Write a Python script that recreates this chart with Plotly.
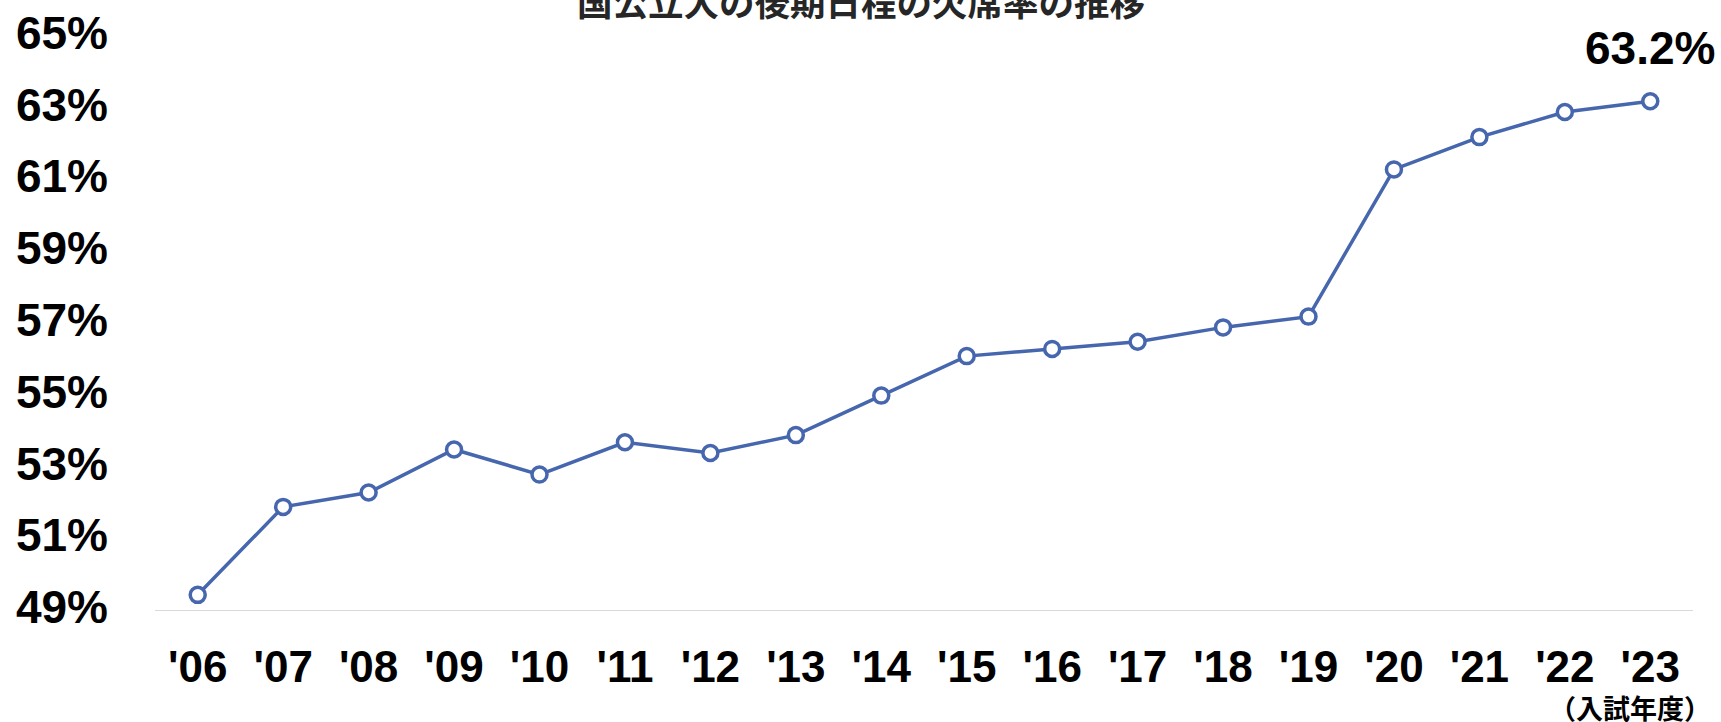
import plotly.graph_objects as go

# 入試年度と欠席率（%）
years = ["'06", "'07", "'08", "'09", "'10", "'11", "'12", "'13", "'14",
         "'15", "'16", "'17", "'18", "'19", "'20", "'21", "'22", "'23"]
rates = [49.45, 51.9, 52.3, 53.5, 52.8, 53.7, 53.4, 53.9, 55.0,
         56.1, 56.3, 56.5, 56.9, 57.2, 61.3, 62.2, 62.9, 63.2]
y_ticks = [49, 51, 53, 55, 57, 59, 61, 63, 65]
title_text = "国公立大の後期日程の欠席率の推移"
unit_text = "（入試年度）"

W, H = 1721, 722
LINE_BLUE = "#4666AE"
TEXT = "#000000"

fig = go.Figure()
fig.add_trace(go.Scatter(
    x=list(range(len(years))),
    y=rates,
    mode="lines+markers",
    line=dict(color=LINE_BLUE, width=3.5),
    marker=dict(size=15, color="#FFFFFF", line=dict(color=LINE_BLUE, width=3.5)),
    hoverinfo="skip",
    cliponaxis=False,
))

# 最新年度の値ラベル
fig.add_annotation(
    x=len(years) - 1, y=rates[-1], xref="x", yref="y",
    text=f"<b>{rates[-1]:.1f}%</b>", showarrow=False,
    yshift=53,
    font=dict(family="Liberation Sans, Arial, sans-serif", size=46, color=TEXT),
)

# タイトル（上端）
fig.add_annotation(
    x=861 / W, y=1.0, xref="paper", yref="paper",
    text=f"<b>{title_text}</b>", showarrow=False,
    xanchor="center", yanchor="middle",
    font=dict(family="Noto Sans CJK JP", size=35.5, color="#262626"),
)

# 単位ラベル
fig.add_annotation(
    x=1630 / W, y=(H - 707) / H, xref="paper", yref="paper",
    text=f"<b>{unit_text}</b>", showarrow=False,
    xanchor="center", yanchor="middle",
    font=dict(family="Noto Sans CJK JP", size=27, color=TEXT),
)

fig.update_layout(
    template="none",
    width=W, height=H,
    margin=dict(l=0, r=0, t=0, b=0, pad=0),
    paper_bgcolor="#FFFFFF", plot_bgcolor="#FFFFFF",
    showlegend=False,
    xaxis=dict(
        domain=[155 / W, 1693 / W],
        range=[-0.5, len(years) - 0.5],
        tickmode="array",
        tickvals=list(range(len(years))),
        ticktext=years,
        showgrid=False, zeroline=False,
        showline=False, ticks="",
        automargin=False,
        ticklabelstandoff=26,
        tickfont=dict(family="Liberation Sans, Arial, sans-serif", size=44, color=TEXT, weight="bold"),
    ),
    yaxis=dict(
        domain=[(H - 611) / H, (H - 36.6) / H],
        range=[49, 65],
        tickmode="array",
        tickvals=y_ticks,
        ticktext=[f"{v}%" for v in y_ticks],
        showgrid=False, zeroline=False,
        showline=False, ticks="",
        automargin=False,
        ticklabelstandoff=46,
        ticklabelshift=-4,
        tickfont=dict(family="Liberation Sans, Arial, sans-serif", size=46, color=TEXT, weight="bold"),
    ),
    shapes=[dict(
        type="line", xref="paper", yref="y",
        x0=155 / W, x1=1693 / W, y0=49, y1=49,
        line=dict(color="#D9D9D9", width=2), layer="below",
    )],
)

fig.write_html("out.html")
